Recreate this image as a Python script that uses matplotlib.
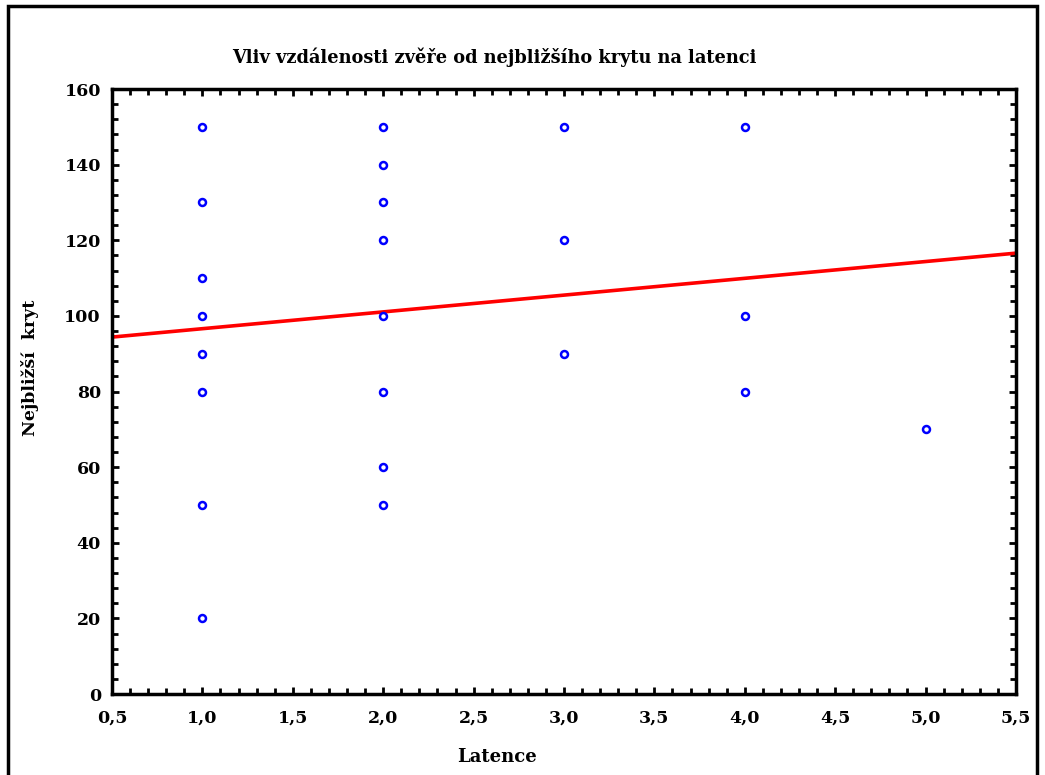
import matplotlib
matplotlib.use('Agg')
import matplotlib.pyplot as plt
from matplotlib.patches import Rectangle
from matplotlib.ticker import MultipleLocator, FuncFormatter

# data
latence = [1, 1, 1, 1, 1, 1, 1, 1,
           2, 2, 2, 2, 2, 2, 2, 2,
           3, 3, 3,
           4, 4, 4,
           5]
kryt = [150, 130, 110, 100, 90, 80, 50, 20,
        150, 140, 130, 120, 100, 80, 60, 50,
        150, 120, 90,
        150, 100, 80,
        70]
fit_x = [0.5, 5.5]
fit_y = [94.4, 116.6]

plt.rcParams['font.family'] = ['DejaVu Serif']
plt.rcParams['font.weight'] = 'bold'

fig = plt.figure(figsize=(10.45, 7.75), dpi=100)
ax = fig.add_axes([0.1072, 0.1045, 0.865, 0.7806])

ax.plot(fit_x, fit_y, color='#ff0000', lw=2.6, zorder=2)
ax.plot(latence, kryt, 'o', ms=5, mfc='none', mec='#0000ff', mew=1.8, zorder=3)

ax.set_xlim(0.5, 5.5)
ax.set_ylim(0, 160)
ax.xaxis.set_major_locator(MultipleLocator(0.5))
ax.xaxis.set_minor_locator(MultipleLocator(0.1))
ax.yaxis.set_major_locator(MultipleLocator(20))
ax.yaxis.set_minor_locator(MultipleLocator(4))
ax.xaxis.set_major_formatter(FuncFormatter(lambda v, p: ('%.1f' % v).replace('.', ',')))
ax.tick_params(which='both', direction='in', top=True, right=True, width=2,
               labelsize=12.5, pad=8)
ax.tick_params(axis='x', which='both', pad=11)
ax.tick_params(which='major', length=5)
ax.tick_params(which='minor', length=4)
for sp in ax.spines.values():
    sp.set_linewidth(2.5)

fig.text(494 / 1045, 1 - 57 / 775, 'Vliv vzdálenosti zvěře od nejbližšího krytu na latenci',
         fontsize=12.8, fontweight='bold', ha='center', va='center')
fig.text(497 / 1045, 1 - 757 / 775, 'Latence',
         fontsize=13, fontweight='bold', ha='center', va='center')
fig.text(30 / 1045, 1 - 368 / 775, 'Nejbližší  kryt', rotation=90,
         fontsize=12.5, fontweight='bold', ha='center', va='center')

fig.patches.append(Rectangle((0.0077, -0.02), 0.985, 1.012, transform=fig.transFigure,
                             fill=False, lw=2.5, ec='black'))

fig.savefig('out.png', dpi=100)
